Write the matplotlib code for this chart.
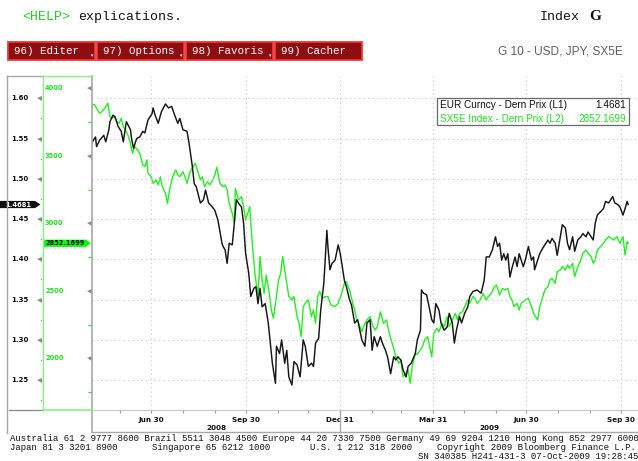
import datetime as dt
import matplotlib
matplotlib.use("Agg")
import matplotlib.pyplot as plt
import matplotlib.dates as mdates
import matplotlib.transforms as mtrans
from matplotlib.patches import Polygon, Rectangle
from matplotlib.lines import Line2D

# ---------------- data (days counted from 30 Jun 2008) ----------------
base_date = dt.date(2008, 6, 30)

eur_days = [-58, -54, -53, -50, -46, -44, -41, -40, -37, -35, -32, -29, -27, -24, -20, -19, -17, -14, -11, -8,
            -6, -3, 1, 2, 4, 7, 10, 14, 17, 20, 23, 26, 28, 31, 35, 37, 40, 42, 44, 48,
            51, 53, 56, 59, 62, 65, 69, 70, 72, 74, 76, 79, 81, 83, 86, 88, 90, 92, 95, 97,
            100, 102, 104, 106, 108, 111, 114, 116, 118, 121, 122, 125, 127, 130, 132, 134, 137, 139, 142, 145,
            148, 150, 153, 156, 158, 160, 163, 165, 168, 169, 171, 172, 174, 176, 179, 182, 184, 186, 188, 190,
            193, 195, 198, 201, 203, 205, 208, 210, 213, 215, 217, 220, 223, 225, 228, 230, 233, 236, 238, 240,
            243, 245, 248, 250, 253, 257, 259, 262, 263, 265, 268, 271, 273, 275, 277, 280, 282, 285, 288, 290,
            293, 295, 297, 300, 302, 305, 308, 310, 313, 317, 321, 324, 326, 329, 332, 335, 337, 339, 341, 343,
            345, 347, 349, 351, 354, 356, 358, 360, 362, 364, 367, 370, 372, 373, 376, 378, 381, 383, 386, 388,
            390, 393, 395, 398, 400, 403, 405, 407, 410, 412, 415, 418, 420, 423, 425, 428, 430, 432, 434, 437,
            440, 442, 445, 449, 451, 454, 456, 459, 461, 463, 464]
eur_vals = [1.544, 1.552, 1.540, 1.548, 1.554, 1.546, 1.561, 1.571, 1.579, 1.577, 1.565, 1.559, 1.546, 1.571, 1.561, 1.550, 1.538, 1.550, 1.552, 1.559,
            1.557, 1.573, 1.581, 1.588, 1.579, 1.569, 1.583, 1.593, 1.588, 1.590, 1.579, 1.569, 1.575, 1.561, 1.559, 1.544, 1.517, 1.494, 1.490, 1.470,
            1.474, 1.486, 1.470, 1.466, 1.461, 1.449, 1.420, 1.416, 1.412, 1.395, 1.420, 1.418, 1.445, 1.474, 1.468, 1.465, 1.445, 1.407, 1.383, 1.354,
            1.364, 1.366, 1.345, 1.364, 1.341, 1.345, 1.321, 1.296, 1.271, 1.246, 1.292, 1.283, 1.300, 1.271, 1.287, 1.254, 1.244, 1.273, 1.269, 1.254,
            1.300, 1.292, 1.267, 1.271, 1.267, 1.296, 1.302, 1.337, 1.370, 1.391, 1.436, 1.416, 1.387, 1.395, 1.399, 1.418, 1.407, 1.391, 1.374, 1.366,
            1.350, 1.343, 1.321, 1.325, 1.312, 1.300, 1.292, 1.321, 1.325, 1.287, 1.304, 1.292, 1.304, 1.296, 1.287, 1.279, 1.258, 1.279, 1.275, 1.279,
            1.275, 1.263, 1.254, 1.267, 1.271, 1.283, 1.300, 1.312, 1.362, 1.358, 1.356, 1.337, 1.325, 1.321, 1.345, 1.337, 1.321, 1.312, 1.316, 1.333,
            1.321, 1.296, 1.312, 1.329, 1.321, 1.333, 1.341, 1.354, 1.360, 1.362, 1.358, 1.374, 1.403, 1.403, 1.412, 1.428, 1.416, 1.420, 1.399, 1.407,
            1.399, 1.407, 1.378, 1.389, 1.403, 1.391, 1.407, 1.399, 1.391, 1.399, 1.416, 1.399, 1.403, 1.387, 1.399, 1.407, 1.414, 1.418, 1.424, 1.420,
            1.426, 1.420, 1.405, 1.428, 1.443, 1.439, 1.420, 1.412, 1.428, 1.410, 1.424, 1.428, 1.432, 1.428, 1.434, 1.428, 1.424, 1.445, 1.455, 1.459,
            1.463, 1.472, 1.470, 1.478, 1.470, 1.468, 1.465, 1.455, 1.463, 1.472, 1.4681]

sx5e_days = [-58, -55, -53, -50, -48, -45, -42, -40, -38, -36, -33, -31, -29, -27, -24, -22, -20, -18, -16, -13,
             -11, -8, -6, -4, -3, 0, 2, 5, 7, 9, 11, 14, 16, 18, 21, 24, 26, 28, 31, 33,
             35, 38, 41, 43, 45, 48, 50, 52, 55, 57, 60, 62, 64, 67, 70, 72, 74, 76, 79, 81,
             82, 85, 88, 90, 92, 94, 96, 97, 99, 101, 104, 106, 108, 110, 112, 115, 117, 119, 121, 124,
             126, 128, 130, 132, 134, 137, 139, 142, 144, 146, 148, 150, 153, 156, 158, 160, 162, 164, 167, 169,
             172, 175, 179, 182, 185, 188, 190, 193, 195, 198, 200, 202, 205, 208, 210, 213, 216, 218, 220, 222,
             223, 226, 229, 231, 233, 236, 238, 241, 243, 245, 248, 250, 252, 254, 257, 259, 262, 264, 266, 269,
             271, 273, 275, 278, 280, 283, 285, 288, 290, 293, 296, 298, 300, 303, 305, 308, 310, 313, 315, 317,
             320, 323, 326, 328, 331, 334, 336, 339, 342, 344, 347, 349, 351, 353, 356, 358, 360, 362, 364, 367,
             370, 372, 374, 376, 378, 381, 383, 386, 388, 390, 393, 395, 398, 400, 403, 405, 407, 410, 412, 415,
             418, 420, 423, 425, 428, 430, 432, 434, 437, 440, 442, 445, 448, 450, 453, 456, 459, 461, 463, 464]
sx5e_vals = [3876, 3880, 3852, 3815, 3827, 3852, 3889, 3790, 3778, 3790, 3753, 3741, 3778, 3716, 3679, 3642, 3592, 3518, 3568, 3543,
             3518, 3432, 3420, 3469, 3370, 3345, 3296, 3321, 3284, 3345, 3271, 3222, 3148, 3247, 3345, 3395, 3358, 3345, 3382, 3345,
             3296, 3382, 3420, 3444, 3395, 3321, 3345, 3271, 3308, 3284, 3321, 3358, 3415, 3296, 3271, 3284, 3247, 3148, 3074, 3000,
             3259, 3173, 3197, 3123, 3024, 3074, 3123, 3000, 2802, 2629, 2457, 2753, 2580, 2481, 2617, 2481, 2358, 2296, 2407, 2580,
             2629, 2753, 2654, 2555, 2457, 2432, 2457, 2308, 2259, 2160, 2383, 2407, 2432, 2308, 2358, 2259, 2457, 2494, 2444, 2457,
             2457, 2395, 2383, 2407, 2469, 2555, 2568, 2506, 2444, 2358, 2284, 2259, 2197, 2259, 2284, 2308, 2234, 2210, 2234, 2308,
             2345, 2259, 2284, 2210, 2148, 2074, 2012, 1963, 1987, 1864, 1889, 1913, 1815, 1938, 2037, 2030, 2062, 2086, 2136, 2160,
             2086, 2012, 2185, 2222, 2197, 2259, 2234, 2308, 2234, 2284, 2333, 2284, 2333, 2345, 2383, 2432, 2407, 2457, 2444, 2407,
             2432, 2481, 2432, 2457, 2481, 2531, 2543, 2469, 2518, 2506, 2518, 2457, 2432, 2383, 2407, 2358, 2407, 2420, 2432, 2444,
             2383, 2333, 2308, 2284, 2383, 2457, 2506, 2531, 2580, 2592, 2555, 2642, 2654, 2679, 2654, 2691, 2666, 2704, 2605, 2679,
             2728, 2778, 2802, 2778, 2753, 2704, 2728, 2802, 2827, 2852, 2876, 2901, 2889, 2876, 2901, 2852, 2901, 2765, 2864, 2852.1699]

eur_ticks = [1.25, 1.30, 1.35, 1.40, 1.45, 1.50, 1.55, 1.60]
eur_minor = [1.225, 1.275, 1.325, 1.375, 1.425, 1.475, 1.525, 1.575]
sx5e_ticks = [2000, 2500, 3000, 3500, 4000]
sx5e_minor = [1750, 2250, 2750, 3250, 3750]
quarter_dates = [dt.date(2008, 6, 30), dt.date(2008, 9, 30), dt.date(2008, 12, 31),
                 dt.date(2009, 3, 31), dt.date(2009, 6, 30), dt.date(2009, 9, 30)]
quarter_labels = ["Jun 30", "Sep 30", "Dec 31", "Mar 31", "Jun 30", "Sep 30"]
year_labels = ["2008", "2009"]
year_break = dt.date(2008, 12, 31)
eur_last = 1.4681
sx5e_last = 2852.1699
eur_name = "EUR Curncy - Dern Prix (L1)"
sx5e_name = "SX5E Index - Dern Prix (L2)"
x_start = dt.datetime(2008, 5, 3, 14)
x_end = dt.datetime(2009, 10, 16, 14)
eur_range = (1.2129, 1.6277)
sx5e_range = (1617, 4091)
buttons = ["96) Editer", "97) Options", "98) Favoris", "99) Cacher"]
footer1 = "Australia 61 2 9777 8600 Brazil 5511 3048 4500 Europe 44 20 7330 7500 Germany 49 69 9204 1210 Hong Kong 852 2977 6000"
footer2 = ["Japan 81 3 3201 8900", "Singapore 65 6212 1000", "U.S. 1 212 318 2000", "Copyright 2009 Bloomberg Finance L.P."]
footer3 = "SN 340385 H241-431-3 07-Oct-2009 19:28:45"

# ---------------- figure ----------------
W, H = 638, 461
fig = plt.figure(figsize=(W / 100, H / 100), dpi=100)
fig.patch.set_facecolor("white")

BLACK = "#161616"
GREEN = "#22ee22"
GREEN_TXT = "#22dd22"
GRID = "#c4c4c4"
FRAME = "#a8a8a8"


def fline(xs, ys, **kw):
    fig.add_artist(Line2D([x / W for x in xs], [1 - y / H for y in ys],
                          transform=fig.transFigure, **kw))


def ftext(x, y, s, **kw):
    fig.text(x / W, 1 - y / H, s, **kw)


PL, PR, PT, PB = 92, 638, 76, 410
ax = fig.add_axes([PL / W, 1 - PB / H, (PR - PL) / W, (PB - PT) / H])
ax.set_facecolor("none")
eur_dates = [base_date + dt.timedelta(days=d) for d in eur_days]
sx5e_dates = [base_date + dt.timedelta(days=d) for d in sx5e_days]

ax.set_xlim(mdates.date2num(x_start), mdates.date2num(x_end))
ax.set_ylim(*eur_range)
ax.set_yticks(eur_ticks)
ax.tick_params(axis="y", length=0, labelleft=False)
ax.set_xticks(mdates.date2num(quarter_dates))
ax.set_xticklabels(quarter_labels, fontsize=5.2, fontweight="bold", color="#111111")
month_ends = []
for yy in (2008, 2009):
    for mm in range(1, 13):
        nxt = dt.date(yy + (mm == 12), mm % 12 + 1, 1)
        me = nxt - dt.timedelta(days=1)
        if x_start.date() <= me <= x_end.date():
            month_ends.append(me)
ax.set_xticks(mdates.date2num(month_ends), minor=True)
ax.tick_params(axis="x", which="both", direction="out", length=2.5, width=0.8,
               color="#999999", pad=2.2)
ax.grid(True, which="major", axis="both", color=GRID, linestyle=(0, (1, 3)), linewidth=0.8)
for s in ("top", "right"):
    ax.spines[s].set_visible(False)
ax.spines["left"].set_visible(False)
ax.spines["bottom"].set_color("#c8c8c8")
ax.spines["bottom"].set_linewidth(0.8)

ax.plot(eur_dates, eur_vals, color=BLACK, lw=1.05, zorder=3)

ax2 = ax.twinx()
ax2.set_ylim(*sx5e_range)
ax2.set_yticks([])
for s in ax2.spines.values():
    s.set_visible(False)
ax2.plot(sx5e_dates, sx5e_vals, color=GREEN, lw=1.0, zorder=2)
ax.set_zorder(ax2.get_zorder() + 1)
ax.patch.set_visible(False)

# year labels and separator
trans_xf = mtrans.blended_transform_factory(ax.transData, fig.transFigure)
xs0 = mdates.date2num(x_start)
xs1 = mdates.date2num(x_end)
xb = mdates.date2num(year_break)
ax.text((xs0 + xb) / 2, 1 - 428 / H, year_labels[0], transform=trans_xf, ha="center", va="center",
        fontsize=5.2, fontweight="bold", color="#111111")
ax.text((xb + xs1) / 2, 1 - 428 / H, year_labels[1], transform=trans_xf, ha="center", va="center",
        fontsize=5.2, fontweight="bold", color="#111111")
ax.add_line(Line2D([xb, xb], [1 - PB / H, 1 - 432 / H], transform=trans_xf, color=FRAME, lw=1.0,
                   clip_on=False))

# frame lines
fline([PL, PL], [PT, 432], color=FRAME, lw=1.2)
fline([PL, PR], [432, 432], color=FRAME, lw=1.0)
fline([7, 7], [PT, 433], color=FRAME, lw=1.0)
fline([7, 43], [PT, PT], color=FRAME, lw=1.0)
fline([9, 43], [PB, PB], color="#909090", lw=1.0)
fline([43, 43], [PT, PB], color="#88ee88", lw=1.0)
fline([43, PL], [PT, PT], color="#88ee88", lw=1.0)
fline([43, PL], [PB, PB], color="#88ee88", lw=1.2)

# ---------------- left value panels ----------------
pos = [0, 1 - PB / H, PL / W, (PB - PT) / H]
ax_l = fig.add_axes(pos)
ax_l.set_xlim(0, PL)
ax_l.set_ylim(*eur_range)
ax_l.axis("off")
ax_g = fig.add_axes(pos)
ax_g.set_xlim(0, PL)
ax_g.set_ylim(*sx5e_range)
ax_g.axis("off")

for t in eur_ticks:
    ax_l.text(11, t, f"{t:.2f}", ha="left", va="center", fontsize=5.0, fontweight="bold", color="#111111")
ax_l.plot([38.5] * len(eur_ticks), eur_ticks, linestyle="none", marker="<", ms=3.6, color="#8a8a8a",
          markeredgewidth=0)
ax_l.plot([41] * len(eur_minor), eur_minor, linestyle="none", marker="o", ms=1.0, color="#8a8a8a",
          markeredgewidth=0)
for t in sx5e_ticks:
    ax_g.text(45, t, f"{t:d}", ha="left", va="center", fontsize=4.8, fontweight="bold", color=GREEN_TXT)
ax_g.plot([88.5] * len(sx5e_ticks), sx5e_ticks, linestyle="none", marker="<", ms=3.6, color="#8a8a8a",
          markeredgewidth=0)
ax_g.plot([90] * len(sx5e_minor), sx5e_minor, linestyle="none", marker="_", ms=2.2, color=GREEN,
          markeredgewidth=0.9)

# current value tags
h_eur = 3.6 * (eur_range[1] - eur_range[0]) / (PB - PT)
ax_l.add_patch(Polygon([(0, eur_last - h_eur), (35, eur_last - h_eur), (40.5, eur_last),
                        (35, eur_last + h_eur), (0, eur_last + h_eur)], closed=True,
                       fc="#111111", ec="none"))
ax_l.text(18.5, eur_last, f"{eur_last:.4f}", ha="center", va="center", fontsize=4.9,
          fontweight="bold", color="white")
h_sx = 3.6 * (sx5e_range[1] - sx5e_range[0]) / (PB - PT)
ax_g.add_patch(Polygon([(43.5, sx5e_last - h_sx), (86, sx5e_last - h_sx), (91, sx5e_last),
                        (86, sx5e_last + h_sx), (43.5, sx5e_last + h_sx)], closed=True,
                       fc="#00ff00", ec="none"))
ax_g.text(65, sx5e_last, f"{sx5e_last:.4f}", ha="center", va="center", fontsize=4.8,
          fontweight="bold", color="#111111")

# ---------------- legend ----------------
fig.add_artist(Rectangle((437 / W, 1 - 125 / H), (629 - 437) / W, 27 / H, transform=fig.transFigure,
                         fc="white", ec="#6a6a6a", lw=0.9, zorder=5))
ftext(440, 105.5, eur_name, ha="left", va="center", fontsize=7.2, family="Liberation Sans",
      color="#111111", zorder=6)
ftext(626, 105.5, f"{eur_last:.4f}", ha="right", va="center", fontsize=7.2, family="Liberation Sans",
      color="#111111", zorder=6)
ftext(440, 118.5, sx5e_name, ha="left", va="center", fontsize=7.2, family="Liberation Sans",
      color=GREEN_TXT, zorder=6)
ftext(626, 118.5, f"{sx5e_last:.4f}", ha="right", va="center", fontsize=7.2, family="Liberation Sans",
      color=GREEN_TXT, zorder=6)

# ---------------- header ----------------
ftext(22, 17, "<HELP>", ha="left", va="center", fontsize=9.5, family="Liberation Mono", color="#22cc22")
ftext(78, 17, "explications.", ha="left", va="center", fontsize=9.5, family="Liberation Mono",
      color="#111111")
ftext(540, 17, "Index", ha="left", va="center", fontsize=9.5, family="Liberation Mono", color="#111111")
ftext(589, 17, "G", ha="left", va="center", fontsize=11, family="Liberation Serif", fontweight="bold",
      color="#111111")
bx = 8
for i, lab in enumerate(buttons):
    x0 = bx + i * 89
    fig.add_artist(Rectangle((x0 / W, 1 - 60 / H), 87 / W, 18 / H, transform=fig.transFigure,
                             fc="#8e0d10", ec="#f03535", lw=1.3))
    ftext(x0 + 6, 51, lab, ha="left", va="center", fontsize=7.8, family="Liberation Mono",
          color="white")
    if i < 3:
        ftext(x0 + 84, 56, "\u25be", ha="center", va="center", fontsize=3.5, color="white")
ftext(498, 51, "G 10 - USD, JPY, SX5E", ha="left", va="center", fontsize=8.6,
      family=["Liberation Sans Narrow", "Liberation Sans"], color="#606060")

# ---------------- footer ----------------
ftext(10, 438, footer1, ha="left", va="center", fontsize=6.5, family="Liberation Mono", color="#111111")
for xpos, s in zip([10, 152, 310, 437], footer2):
    ftext(xpos, 447.5, s, ha="left", va="center", fontsize=6.5, family="Liberation Mono", color="#111111")
ftext(638, 456.5, footer3, ha="right", va="center", fontsize=6.5, family="Liberation Mono",
      color="#111111")

fig.savefig("out.png", dpi=100, facecolor="white")
